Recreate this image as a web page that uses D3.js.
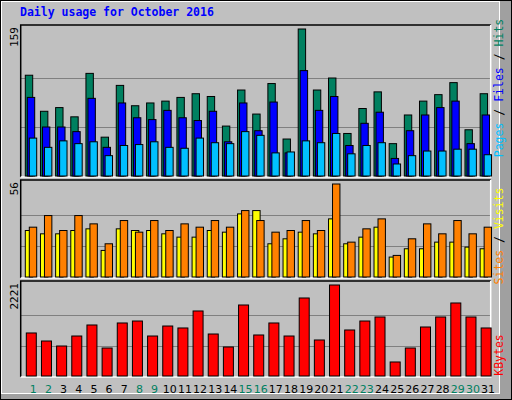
<!DOCTYPE html>
<html><head><meta charset="utf-8">
<script src="https://cdn.jsdelivr.net/npm/d3@7"></script>
<style>body{margin:0;background:#fff}</style></head>
<body><svg id="c" width="512" height="400"></svg>
<script>
const days = d3.range(1, 32);
const weekend = [1,2,8,9,15,16,22,23,29,30];
const hits  = [109,70,74,64,111,42,98,76,79,81,85,89,86,54,93,67,100,40,159,93,106,46,73,91,35,66,81,88,101,50,89];
const files = [85,53,53,48,84,31,79,63,61,71,63,60,70,37,79,49,80,25,114,71,86,33,57,69,19,49,66,74,81,35,66];
const pages = [41,31,38,35,37,22,33,34,37,31,30,41,36,35,48,44,25,26,38,36,46,24,33,36,13,22,27,27,29,29,23];
const visits = [28,26,26,28,29,16,29,28,28,26,24,24,28,27,38,40,20,23,27,26,35,20,24,30,12,17,17,21,21,18,17];
const sites  = [30,37,28,37,32,20,34,27,34,28,32,30,34,30,40,34,27,28,34,28,56,21,29,35,13,23,32,26,34,26,30];
const kbytes = [1050,854,732,976,1245,683,1294,1342,976,1220,1172,1587,1025,708,1733,1001,1294,976,1904,879,2221,1123,1342,1440,342,683,1196,1440,1782,1440,1172];

const svg = d3.select("#c");
const mono = "'DejaVu Sans Mono', monospace";
// frame
svg.append("rect").attr("x",0).attr("y",0).attr("width",512).attr("height",400).attr("fill","#c0c0c0");
svg.append("rect").attr("x",500).attr("y",0).attr("width",12).attr("height",400).attr("fill","#a0a0a0");
svg.append("rect").attr("x",0).attr("y",394).attr("width",512).attr("height",6).attr("fill","#a0a0a0");
svg.append("rect").attr("x",0.5).attr("y",0.5).attr("width",511).attr("height",399).attr("fill","none").attr("stroke","#000");
svg.append("rect").attr("x",1.5).attr("y",1.5).attr("width",498).attr("height",392).attr("fill","none").attr("stroke","#fff");

svg.append("text").attr("x",20).attr("y",16).attr("fill","#0000ff").attr("font-family",mono)
  .attr("font-weight","bold").attr("font-size",11.5).text("Daily usage for October 2016");

const x0 = d3.scaleBand().domain(days).range([20.7,490.7]);
const L = 20.7, R = 490.7;

function panel(top, bot, max, label){
  svg.append("rect").attr("x",L).attr("y",top).attr("width",R-L).attr("height",bot-top).attr("fill","#c0c0c0");
  const y = d3.scaleLinear().domain([0,max]).range([bot-1,top+4]);
  [max/3, 2*max/3].forEach(v=>svg.append("line").attr("x1",L).attr("x2",R).attr("y1",Math.round(y(v))+0.5).attr("y2",Math.round(y(v))+0.5).attr("stroke","#808080"));
  svg.append("path").attr("d",`M${L},${bot}V${top}H${R}`).attr("fill","none").attr("stroke","#000").attr("stroke-width",1.5);
  svg.append("path").attr("d",`M${L},${bot}H${R}V${top}`).attr("fill","none").attr("stroke","#fff").attr("stroke-width",1.5);
  svg.append("text").attr("transform",`translate(18,${top+2}) rotate(-90)`).attr("text-anchor","end")
    .attr("font-family",mono).attr("font-size",11).attr("fill","#000").text(label);
  return y;
}
function bars(y, data, off, w, color){
  svg.append("g").selectAll("rect").data(data).join("rect")
    .attr("x",(d,i)=>x0(days[i])+off).attr("y",d=>y(d)).attr("width",w).attr("height",d=>y(0)-y(d))
    .attr("fill",color).attr("stroke","#000").attr("stroke-width",1);
}
const y1 = panel(25,177,159,"159");
bars(y1,hits,4.6,7.4,"#008060");
bars(y1,files,6.6,7.4,"#0000ff");
bars(y1,pages,8.6,7.4,"#00c0ff");
const y2 = panel(180,278,56,"56");
bars(y2,visits,4.6,7.4,"#ffff00");
bars(y2,sites,8.6,7.4,"#ff8000");
const y3 = panel(281,377,2221,"2221");
bars(y3,kbytes,5.6,10,"#ff0000");

svg.append("g").selectAll("text").data(days).join("text")
  .attr("x",d=>x0(d)+x0.bandwidth()/2+5).attr("y",393).attr("text-anchor","middle")
  .attr("font-family","'DejaVu Sans', sans-serif").attr("font-size",11)
  .attr("fill",d=>weekend.includes(d)?"#008060":"#000").text(d=>d);

function side(cy, parts){
  const t = svg.append("text").attr("transform",`translate(503,${cy}) rotate(-90)`).attr("text-anchor","middle")
    .attr("font-family",mono).attr("font-size",11.5);
  parts.forEach(([s,c])=>t.append("tspan").attr("fill",c).text(s));
}
side(88,[["Pages","#00c0ff"],[" / ","#000"],["Files","#0000ff"],[" / ","#000"],["Hits","#008060"]]);
side(236,[["Sites","#ff8000"],[" / ","#000"],["Visits","#ffff00"]]);
side(355,[["KBytes","#ff0000"]]);
</script></body></html>
